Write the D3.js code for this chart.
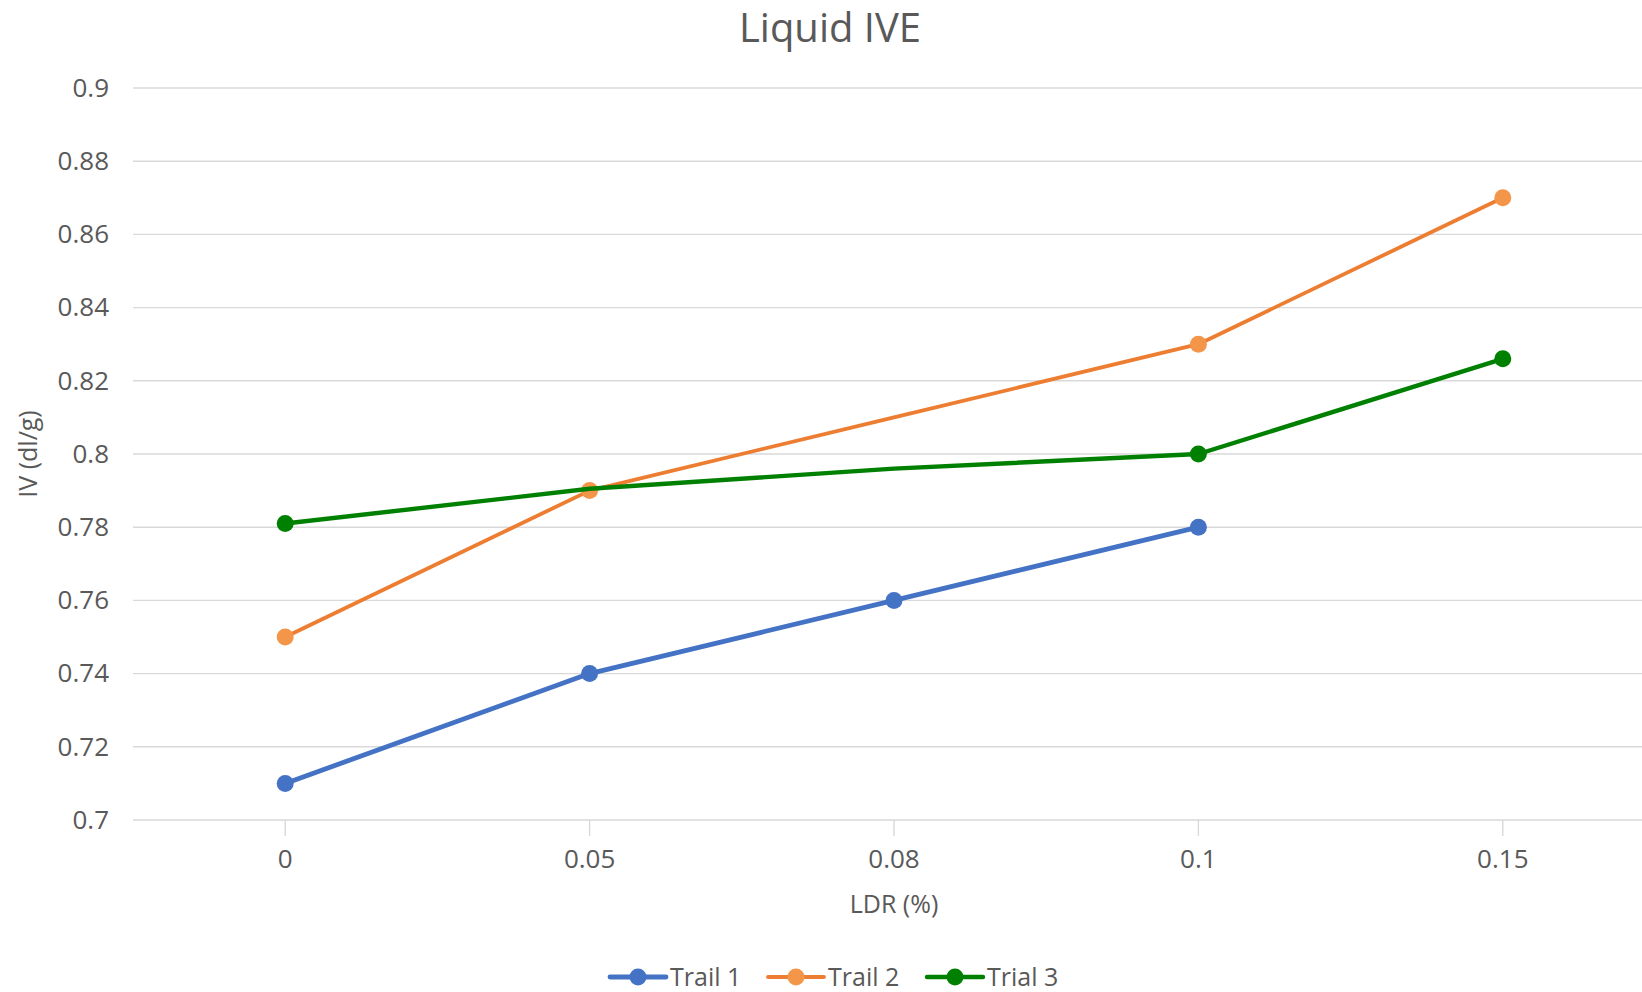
<!DOCTYPE html>
<html>
<head>
<meta charset="utf-8">
<script src="https://cdn.jsdelivr.net/npm/d3@7"></script>
<style>
  html, body { margin: 0; padding: 0; background: #fff; }
  svg { display: block; }
  text { font-family: "Open Sans", "Segoe UI", sans-serif; fill: #595959; }
</style>
</head>
<body>
<svg id="chart" width="1642" height="992"></svg>
<script>
// ---- data ----
const categories = ["0", "0.05", "0.08", "0.1", "0.15"];
const trail1 = [0.71, 0.74, 0.76, 0.78, null];
const trail2 = [0.75, 0.79, 0.81, 0.83, 0.87];
const trial3 = [0.781, 0.7905, 0.796, 0.80, 0.826];
// which points show a marker
const trail1Markers = [true, true, true, true, false];
const trail2Markers = [true, true, false, true, true];
const trial3Markers = [true, false, false, true, true];
const seriesNames = ["Trail 1", "Trail 2", "Trial 3"];
const yTicks = [0.7, 0.72, 0.74, 0.76, 0.78, 0.8, 0.82, 0.84, 0.86, 0.88, 0.9];
const chartTitle = "Liquid IVE";
const xTitle = "LDR (%)";
const yTitle = "IV (dl/g)";

const series = [
  { name: seriesNames[0], values: trail1, markers: trail1Markers, line: "#4472C4", marker: "#4472C4", width: 4.8 },
  { name: seriesNames[1], values: trail2, markers: trail2Markers, line: "#ED7D31", marker: "#F4964A", width: 3.8 },
  { name: seriesNames[2], values: trial3, markers: trial3Markers, line: "#008000", marker: "#008000", width: 4.4 }
];

// ---- layout ----
const svg = d3.select("#chart");
const plot = { left: 133, right: 1655, top: 88, bottom: 820 };

const x = d3.scaleBand().domain(categories).range([plot.left, plot.right]).padding(0);
const xc = c => x(c) + x.bandwidth() / 2;
const y = d3.scaleLinear().domain([0.7, 0.9]).range([plot.bottom, plot.top]);

// title
svg.append("text")
  .attr("x", 830).attr("y", 42)
  .attr("text-anchor", "middle")
  .style("font-size", "40px")
  .text(chartTitle);

// gridlines
svg.append("g").selectAll("line")
  .data(yTicks.filter(t => t > 0.7))
  .join("line")
  .attr("x1", plot.left).attr("x2", plot.right)
  .attr("y1", d => y(d)).attr("y2", d => y(d))
  .attr("stroke", "#d9d9d9").attr("stroke-width", 1.4);

// y axis labels
const yAxis = d3.axisLeft(y).tickValues(yTicks).tickSize(0).tickPadding(24).tickFormat(d3.format("~g"));
const gy = svg.append("g").attr("transform", `translate(${plot.left},0)`).call(yAxis);
gy.select(".domain").remove();
gy.selectAll("text").style("font-size", "26px").attr("fill", "#595959").style("font-family", '"Open Sans", sans-serif');

// x axis
const xAxis = d3.axisBottom(x).tickSize(0).tickPadding(30);
const gx = svg.append("g").attr("transform", `translate(0,${plot.bottom})`).call(xAxis);
gx.select(".domain").remove();
gx.selectAll("text").style("font-size", "26px").attr("fill", "#595959").style("font-family", '"Open Sans", sans-serif');
svg.append("line")
  .attr("x1", plot.left).attr("x2", plot.right)
  .attr("y1", y(0.7)).attr("y2", y(0.7))
  .attr("stroke", "#d9d9d9").attr("stroke-width", 1.6);
svg.append("g").selectAll("line")
  .data(categories)
  .join("line")
  .attr("x1", d => xc(d)).attr("x2", d => xc(d))
  .attr("y1", y(0.7)).attr("y2", y(0.7) + 16)
  .attr("stroke", "#d9d9d9").attr("stroke-width", 1.4);

// axis titles
svg.append("text")
  .attr("x", xc("0.08")).attr("y", 913)
  .attr("text-anchor", "middle")
  .style("font-size", "25px")
  .text(xTitle);
svg.append("text")
  .attr("transform", `translate(37,${(plot.top + plot.bottom) / 2}) rotate(-90)`)
  .attr("text-anchor", "middle")
  .style("font-size", "25px")
  .text(yTitle);

// lines
const lineGen = d3.line()
  .defined(d => d.v !== null)
  .x(d => xc(d.c))
  .y(d => y(d.v));

series.forEach(s => {
  const pts = categories.map((c, i) => ({ c, v: s.values[i], m: s.markers[i] }));
  svg.append("path")
    .datum(pts.filter(p => p.v !== null))
    .attr("d", lineGen)
    .attr("fill", "none")
    .attr("stroke", s.line)
    .attr("stroke-width", s.width)
    .attr("stroke-linejoin", "round")
    .attr("stroke-linecap", "round");
  svg.append("g").selectAll("circle")
    .data(pts.filter(p => p.v !== null && p.m))
    .join("circle")
    .attr("cx", p => xc(p.c))
    .attr("cy", p => y(p.v))
    .attr("r", 8.5)
    .attr("fill", s.marker);
});

// legend
const legendX = [610, 768, 927];
const legendY = 977;
const lg = svg.append("g");
series.forEach((s, i) => {
  const g = lg.append("g").attr("transform", `translate(${legendX[i]},${legendY})`);
  g.append("line").attr("x1", 0).attr("x2", 56).attr("y1", 0).attr("y2", 0)
    .attr("stroke", s.line).attr("stroke-width", s.width).attr("stroke-linecap", "round");
  g.append("circle").attr("cx", 28).attr("cy", 0).attr("r", 8.5).attr("fill", s.marker);
  g.append("text").attr("x", 60).attr("y", 9).style("font-size", "25px").text(s.name);
});
</script>
</body>
</html>
